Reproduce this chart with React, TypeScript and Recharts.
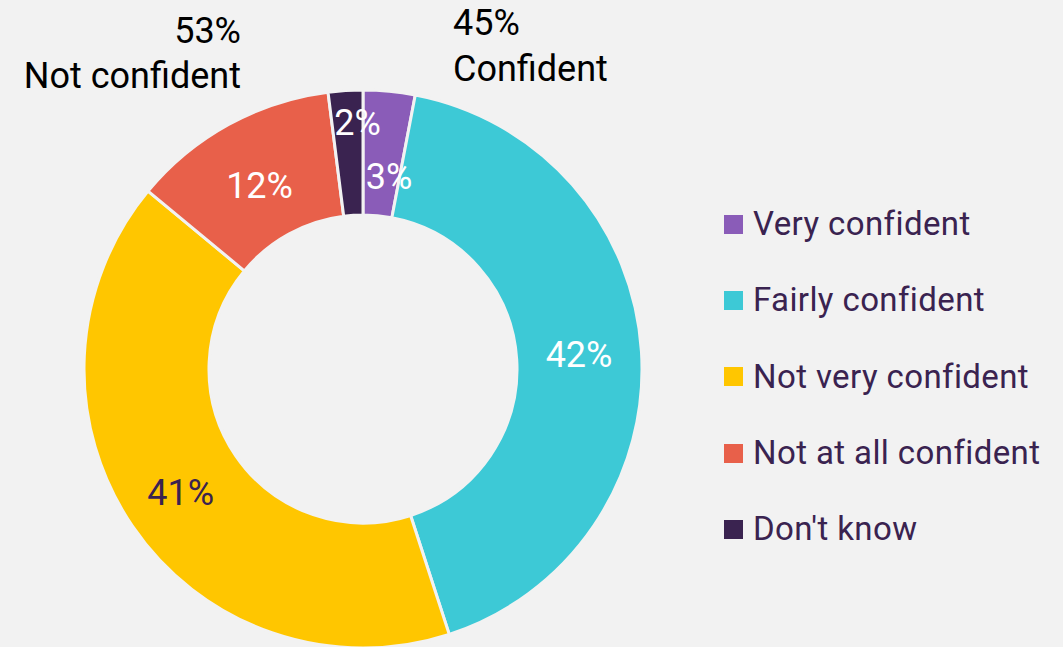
import React from "react";
import { PieChart, Pie, Cell, Legend } from "recharts";

const categories = ["Very confident", "Fairly confident", "Not very confident", "Not at all confident", "Don't know"];
const values = [3, 42, 41, 12, 2];
const colors = ["#8a5cb8", "#3dc9d6", "#ffc600", "#e8604a", "#3a2350"];
const labelColors = ["#ffffff", "#ffffff", "#3a2350", "#ffffff", "#ffffff"];
const labelRadiusNudge = [-24, 0, 4, -8, 30];
const labelXNudge = [8, 0, 0, -3, 10];
const summaryTop = [
  { pct: "53%", text: "Not confident" },
  { pct: "45%", text: "Confident" },
];

const data = categories.map((name, i) => ({ name, value: values[i] }));
const FONT = "Roboto, 'Noto Sans', sans-serif";
const RAD = Math.PI / 180;

const renderLabel = (props: any) => {
  const { cx, cy, midAngle, innerRadius, outerRadius, index, value } = props;
  const r = (innerRadius + outerRadius) / 2 + labelRadiusNudge[index];
  const x = cx + r * Math.cos(-midAngle * RAD) + labelXNudge[index];
  const y = cy + r * Math.sin(-midAngle * RAD);
  return (
    <text
      x={x}
      y={y}
      fill={labelColors[index]}
      textAnchor="middle"
      dominantBaseline="central"
      style={{ fontFamily: FONT, fontSize: 36 }}
    >
      {value}%
    </text>
  );
};

const renderLegend = () => (
  <div style={{ fontFamily: FONT }}>
    {categories.map((c, i) => (
      <div key={c} style={{ height: 76.3, display: "flex", alignItems: "center" }}>
        <div style={{ width: 19, height: 19, background: colors[i], marginRight: 10 }} />
        <span style={{ fontSize: 33, color: "#3a2350", lineHeight: "40px", letterSpacing: 0.4 }}>{c}</span>
      </div>
    ))}
  </div>
);

export default function App() {
  return (
    <div style={{ position: "absolute", left: 0, top: 0, width: 1063, height: 647, background: "#f2f2f2", overflow: "hidden" }}>
      <PieChart width={1063} height={647} margin={{ top: 0, right: 0, bottom: 0, left: 0 }}>
        <Pie
          data={data}
          dataKey="value"
          nameKey="name"
          cx={363}
          cy={369}
          innerRadius={154}
          outerRadius={279}
          startAngle={90}
          endAngle={-270}
          stroke="#f2f2f2"
          strokeWidth={3}
          label={renderLabel}
          labelLine={false}
          isAnimationActive={false}
        >
          {data.map((d, i) => (
            <Cell key={d.name} fill={colors[i]} />
          ))}
        </Pie>
        <Legend
          content={renderLegend}
          wrapperStyle={{ position: "absolute", left: 724, top: 186, width: 339 }}
        />
      </PieChart>
      <div style={{ position: "absolute", right: 1063 - 241, top: 9, textAlign: "right", fontFamily: FONT, fontSize: 36, lineHeight: "45px", color: "#000" }}>
        <div>{summaryTop[0].pct}</div>
        <div>{summaryTop[0].text}</div>
      </div>
      <div style={{ position: "absolute", left: 453, top: 0, textAlign: "left", fontFamily: FONT, fontSize: 36, lineHeight: "46px", color: "#000" }}>
        <div>{summaryTop[1].pct}</div>
        <div>{summaryTop[1].text}</div>
      </div>
    </div>
  );
}
